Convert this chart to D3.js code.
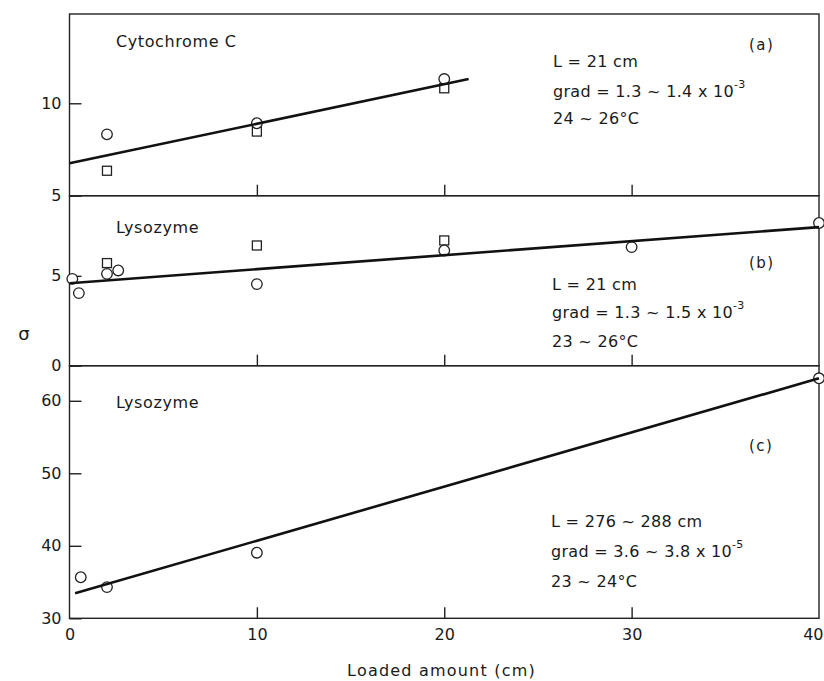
<!DOCTYPE html>
<html>
<head>
<meta charset="utf-8">
<script src="https://cdn.jsdelivr.net/npm/d3@7"></script>
<style>
  html, body { margin: 0; padding: 0; background: #fff; }
  svg { display: block; }
  text { font-family: "DejaVu Sans", sans-serif; fill: #1a1a1a; }
</style>
</head>
<body>
<svg id="chart" width="824" height="681"></svg>
<script>
// ---------- data ----------
const xTickValues = [0, 10, 20, 30, 40];
const xTickLabels = ["0", "10", "20", "30", "40"];

// panel (a) Cytochrome C
const aCircles = [[2, 8.32], [10, 8.92], [20, 11.31]];
const aSquares = [[2, 6.35], [10, 8.47], [20, 10.81]];
const aFit = [[0, 6.75], [21.3, 11.31]];
const aYTicks = [5, 10];

// panel (b) Lysozyme, L = 21 cm
const bCircles = [[0.15, 4.83], [0.5, 4.04], [2, 5.11], [2.6, 5.30], [10, 4.54], [20, 6.41], [30, 6.60], [40, 7.94]];
const bSquares = [[2, 5.71], [10, 6.69], [20, 6.97]];
const bFit = [[0, 4.59], [40, 7.71]];
const bYTicks = [0, 5];

// panel (c) Lysozyme, L = 276~288 cm
const cCircles = [[0.6, 35.66], [2, 34.3], [10, 39.05], [40, 63.1]];
const cFit = [[0.3, 33.45], [40, 63.1]];
const cYTicks = [30, 40, 50, 60];

const panelTitles = ["Cytochrome C", "Lysozyme", "Lysozyme"];
const panelTags = ["(a)", "(b)", "(c)"];
const panelNotes = [
  ["L = 21  cm", "grad = 1.3 ~ 1.4 x 10", "24 ~ 26°C"],
  ["L = 21  cm", "grad = 1.3 ~ 1.5 x 10", "23 ~ 26°C"],
  ["L = 276 ~ 288  cm", "grad = 3.6 ~ 3.8 x 10", "23 ~ 24°C"]
];
const noteExponents = ["-3", "-3", "-5"];
const xLabel = "Loaded amount (cm)";
const yLabel = "σ";

// ---------- layout ----------
const svg = d3.select("#chart");
const x = d3.scaleLinear().domain([0, 40]).range([69.5, 819]);

const panels = [
  { y: d3.scaleLinear().domain([5, 14.83]).range([195.7, 14]), yTicks: aYTicks,
    circles: aCircles, squares: aSquares, fit: aFit,
    titleY: 47, tagY: 50, noteX: 553, noteY: [67, 97, 124] },
  { y: d3.scaleLinear().domain([0, 9.46]).range([365.7, 195.7]), yTicks: bYTicks,
    circles: bCircles, squares: bSquares, fit: bFit,
    titleY: 233, tagY: 268, noteX: 552, noteY: [290, 318, 347] },
  { y: d3.scaleLinear().domain([30, 64.84]).range([618.3, 365.7]), yTicks: cYTicks,
    circles: cCircles, squares: [], fit: cFit,
    titleY: 408, tagY: 451, noteX: 551, noteY: [527, 557, 587] }
];

panels.forEach((p, i) => {
  const g = svg.append("g");
  const [y0, y1] = p.y.range();
  // frame
  g.append("rect")
    .attr("x", x(0)).attr("y", y1)
    .attr("width", x(40) - x(0)).attr("height", y0 - y1)
    .attr("fill", "none").attr("stroke", "#222").attr("stroke-width", 1.4);

  // y axis (inward ticks)
  const yAxis = d3.axisLeft(p.y).tickValues(p.yTicks).tickSize(-12).tickPadding(8)
    .tickFormat(d3.format("d"));
  const ya = g.append("g").attr("transform", `translate(${x(0)},0)`).call(yAxis);
  ya.select(".domain").remove();
  ya.selectAll("line").attr("stroke", "#222").attr("stroke-width", 1.4);
  ya.selectAll("text").style("font-size", "16px").attr("fill", "#1a1a1a");

  // x axis (inward ticks)
  const xAxis = d3.axisBottom(x).tickValues(i === 2 ? xTickValues : [10, 20, 30])
    .tickSize(-11).tickPadding(10)
    .tickFormat(i === 2 ? ((d, k) => xTickLabels[k]) : (() => ""));
  const xa = g.append("g").attr("transform", `translate(0,${y0})`).call(xAxis);
  xa.select(".domain").remove();
  xa.selectAll("line").attr("stroke", "#222").attr("stroke-width", 1.4)
    .attr("display", d => (d === 0 || d === 40) ? "none" : null);
  xa.selectAll("text").style("font-size", "16px").attr("fill", "#1a1a1a");
  // keep the last label inside the page
  xa.selectAll("text").filter(d => d === 40)
    .attr("text-anchor", "end").attr("x", 823 - x(40));

  // markers
  g.selectAll(".sq").data(p.squares).join("rect")
    .attr("x", d => x(d[0]) - 4.5).attr("y", d => p.y(d[1]) - 4.5)
    .attr("width", 9).attr("height", 9)
    .attr("fill", "#fff").attr("stroke", "#222").attr("stroke-width", 1.3);
  g.selectAll(".ci").data(p.circles).join("circle")
    .attr("cx", d => x(d[0])).attr("cy", d => p.y(d[1])).attr("r", 5.3)
    .attr("fill", "#fff").attr("stroke", "#222").attr("stroke-width", 1.3);

  // fit line
  g.append("path").datum(p.fit)
    .attr("d", d3.line().x(d => x(d[0])).y(d => p.y(d[1])))
    .attr("fill", "none").attr("stroke", "#111").attr("stroke-width", 2.6);

  // texts
  g.append("text").attr("x", 116).attr("y", p.titleY)
    .style("font-size", "16px").style("letter-spacing", "0.6px").text(panelTitles[i]);
  g.append("text").attr("x", 749).attr("y", p.tagY)
    .style("font-size", "15px").style("letter-spacing", "1.5px").text(panelTags[i]);
  panelNotes[i].forEach((t, k) => {
    const tx = g.append("text").attr("x", p.noteX).attr("y", p.noteY[k])
      .style("font-size", "16px").style("letter-spacing", "0.3px").text(t);
    if (k === 1) {
      tx.append("tspan").attr("dy", -9).style("font-size", "11px").text(noteExponents[i]);
    }
  });
});

// axis titles
svg.append("text").attr("x", 441.5).attr("y", 676).attr("text-anchor", "middle")
  .style("font-size", "16px").style("letter-spacing", "1.2px").text(xLabel);
svg.append("text").attr("x", 24).attr("y", 340).attr("text-anchor", "middle")
  .style("font-size", "18px").text(yLabel);
</script>
</body>
</html>
